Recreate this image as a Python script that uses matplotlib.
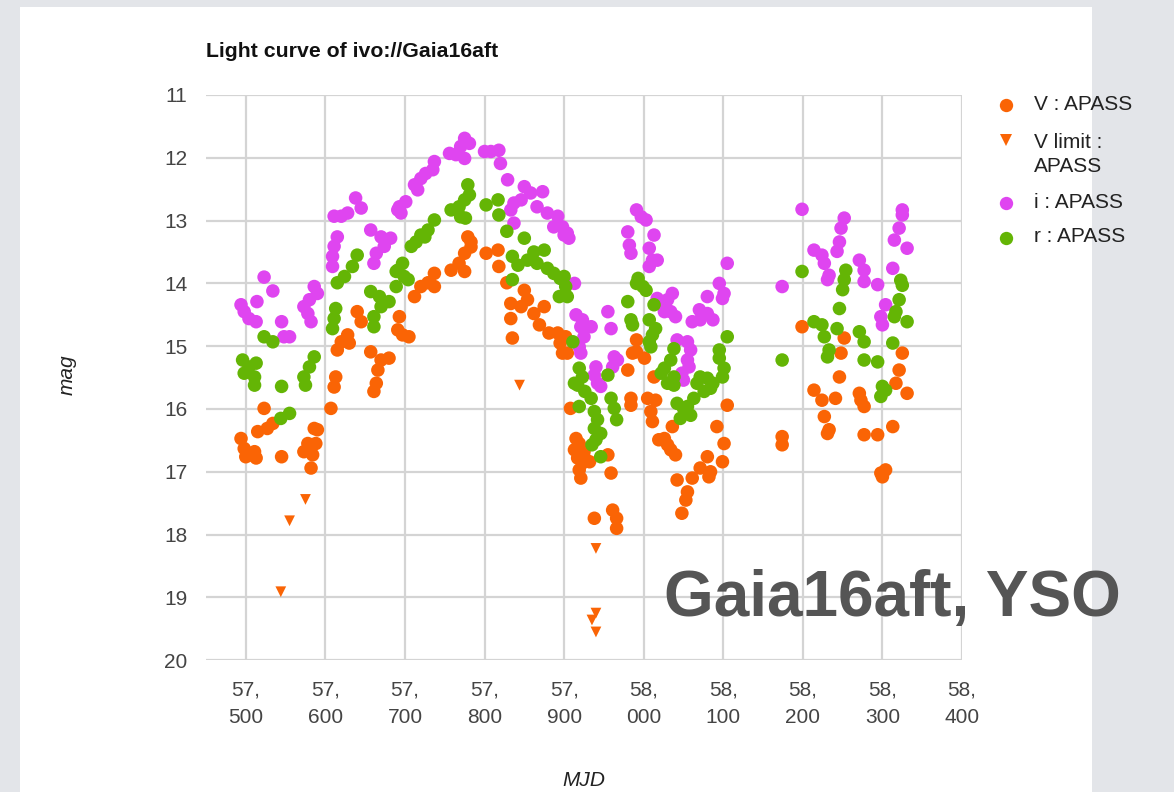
import matplotlib
matplotlib.use("Agg")
import matplotlib.pyplot as plt
from matplotlib.patches import Rectangle
from matplotlib.lines import Line2D

plt.rcParams['font.family'] = ['Liberation Sans', 'DejaVu Sans']

# ---- light-curve data (MJD, magnitude) ----
v_mjd = [57640, 57645, 57628, 57620, 57615, 57630, 57613, 57611, 57657, 57670,
         57680, 57666, 57664, 57693, 57691, 57697, 57523, 57515, 57527, 57534,
         57494, 57498, 57500, 57511, 57513, 57507, 57545, 57586, 57590, 57578,
         57588, 57573, 57584, 57582, 57607, 57661, 57779, 57783, 57775, 57768,
         57758, 57775, 57783, 57802, 57817, 57818, 57828, 57737, 57729, 57720,
         57712, 57737, 57705, 57850, 57854, 57833, 57846, 57833, 57862, 57875,
         57869, 57881, 57892, 57895, 57898, 57835, 57991, 57991, 58001, 57986,
         57980, 58013, 57902, 57904, 57908, 57915, 57913, 57919, 57925, 57917,
         57923, 57919, 57921, 57925, 57932, 57955, 57959, 57938, 57961, 57966,
         57966, 57984, 57984, 58005, 58015, 58009, 58011, 58036, 58019, 58026,
         58030, 58034, 58040, 58042, 58055, 58053, 58048, 58061, 58071, 58080,
         58084, 58082, 58092, 58101, 58099, 58105, 58199, 58252, 58248, 58246,
         58214, 58224, 58241, 58227, 58233, 58231, 58271, 58273, 58277, 58277,
         58294, 58325, 58321, 58317, 58331, 58313, 58174, 58174, 58298, 58304,
         58300]
v_mag = [14.45, 14.61, 14.82, 14.93, 15.06, 14.95, 15.49, 15.65, 15.09, 15.22,
         15.19, 15.38, 15.59, 14.53, 14.74, 14.82, 15.99, 16.36, 16.31, 16.23,
         16.47, 16.63, 16.76, 16.68, 16.78, 16.73, 16.76, 16.31, 16.33, 16.55,
         16.55, 16.68, 16.73, 16.94, 15.99, 15.72, 13.26, 13.42, 13.52, 13.68,
         13.79, 13.81, 13.34, 13.52, 13.47, 13.73, 13.99, 13.84, 13.99, 14.05,
         14.21, 14.05, 14.85, 14.11, 14.26, 14.32, 14.37, 14.56, 14.48, 14.37,
         14.66, 14.79, 14.79, 14.95, 15.11, 14.87, 14.90, 15.09, 15.19, 15.11,
         15.38, 15.49, 14.85, 15.11, 15.99, 16.47, 16.65, 16.55, 16.68, 16.78,
         16.86, 16.97, 17.10, 16.76, 16.84, 16.73, 17.02, 17.74, 17.61, 17.74,
         17.90, 15.83, 15.94, 15.83, 15.86, 16.04, 16.20, 16.28, 16.49, 16.47,
         16.57, 16.65, 16.73, 17.13, 17.32, 17.45, 17.66, 17.10, 16.94, 16.76,
         17.00, 17.08, 16.28, 16.55, 16.84, 15.94, 14.69, 14.87, 15.11, 15.49,
         15.70, 15.86, 15.83, 16.12, 16.33, 16.39, 15.75, 15.86, 15.96, 16.41,
         16.41, 15.11, 15.38, 15.59, 15.75, 16.28, 16.44, 16.57, 17.02, 16.97,
         17.08]

vlim_mjd = [57575, 57555, 57544, 57844, 57940, 57940, 57935, 57940]
vlim_mag = [17.44, 17.78, 18.91, 15.62, 18.22, 19.25, 19.36, 19.55]

i_mjd = [57494, 57498, 57504, 57513, 57514, 57523, 57534, 57545, 57548, 57555,
         57586, 57590, 57580, 57573, 57578, 57582, 57611, 57620, 57628, 57638,
         57645, 57615, 57611, 57609, 57609, 57657, 57670, 57682, 57674, 57664,
         57661, 57693, 57695, 57701, 57691, 57712, 57720, 57726, 57737, 57735,
         57716, 57756, 57764, 57775, 57775, 57781, 57770, 57800, 57808, 57818,
         57820, 57829, 57850, 57858, 57846, 57837, 57833, 57873, 57866, 57879,
         57892, 57898, 57900, 57837, 57887, 57904, 57906, 57991, 57997, 58003,
         57980, 57982, 57984, 58007, 58013, 58011, 58007, 58017, 57913, 58105,
         58095, 58101, 58099, 58080, 58017, 58030, 58036, 58026, 58034, 58040,
         58026, 57955, 57959, 57915, 57923, 57934, 57921, 57925, 57919, 57921,
         58070, 58080, 58087, 58061, 58071, 57963, 57967, 57961, 57940, 57938,
         57942, 58042, 58055, 58059, 58055, 58057, 58048, 58050, 57946, 58199,
         58174, 58252, 58248, 58246, 58243, 58214, 58224, 58227, 58233, 58231,
         58271, 58277, 58277, 58294, 58325, 58325, 58321, 58315, 58331, 58313,
         58304, 58298, 58300]
i_mag = [14.34, 14.45, 14.56, 14.61, 14.29, 13.90, 14.12, 14.61, 14.85, 14.85,
         14.05, 14.16, 14.26, 14.37, 14.48, 14.61, 12.93, 12.93, 12.88, 12.64,
         12.80, 13.26, 13.41, 13.57, 13.73, 13.15, 13.26, 13.28, 13.41, 13.52,
         13.68, 12.78, 12.88, 12.70, 12.83, 12.43, 12.33, 12.25, 12.06, 12.19,
         12.51, 11.93, 11.95, 12.01, 11.69, 11.77, 11.82, 11.90, 11.90, 11.88,
         12.09, 12.35, 12.46, 12.56, 12.67, 12.72, 12.83, 12.54, 12.78, 12.88,
         12.93, 13.10, 13.23, 13.04, 13.10, 13.20, 13.28, 12.83, 12.94, 12.99,
         13.18, 13.39, 13.52, 13.44, 13.23, 13.63, 13.73, 13.63, 14.00, 13.68,
         14.00, 14.16, 14.24, 14.21, 14.24, 14.26, 14.16, 14.37, 14.45, 14.53,
         14.45, 14.45, 14.72, 14.50, 14.58, 14.69, 14.69, 14.85, 15.01, 15.11,
         14.42, 14.48, 14.58, 14.61, 14.58, 15.17, 15.22, 15.33, 15.33, 15.46,
         15.59, 14.90, 14.93, 15.06, 15.22, 15.33, 15.43, 15.54, 15.64, 12.82,
         14.05, 12.96, 13.12, 13.34, 13.49, 13.47, 13.55, 13.68, 13.87, 13.94,
         13.63, 13.79, 13.97, 14.02, 12.83, 12.91, 13.12, 13.31, 13.44, 13.76,
         14.34, 14.53, 14.66]

r_mjd = [57523, 57534, 57496, 57504, 57513, 57511, 57498, 57545, 57586, 57580,
         57573, 57575, 57640, 57634, 57624, 57615, 57613, 57611, 57609, 57657,
         57668, 57680, 57670, 57661, 57661, 57689, 57697, 57544, 57555, 57511,
         57779, 57781, 57775, 57768, 57758, 57770, 57776, 57802, 57817, 57818,
         57828, 57737, 57729, 57720, 57714, 57708, 57725, 57691, 57699, 57704,
         57689, 57850, 57862, 57875, 57835, 57842, 57854, 57866, 57835, 57879,
         57887, 57895, 57902, 57904, 57894, 57900, 57993, 57999, 58003, 57991,
         57980, 57984, 57986, 58013, 58007, 58015, 58011, 58007, 58009, 57911,
         58105, 58095, 58095, 58101, 58099, 58038, 58034, 58026, 58022, 58038,
         58030, 57955, 57919, 57923, 57913, 58071, 58080, 58087, 58067, 57917,
         57926, 57934, 57919, 57938, 57942, 57938, 57946, 57940, 57935, 57946,
         57959, 57963, 57966, 58038, 58042, 58050, 58059, 58046, 58063, 58076,
         58084, 58055, 58199, 58174, 58254, 58252, 58250, 58246, 58214, 58224,
         58227, 58233, 58231, 58243, 58271, 58277, 58277, 58294, 58323, 58325,
         58321, 58317, 58315, 58331, 58313, 58300, 58304, 58298]
r_mag = [14.85, 14.93, 15.22, 15.33, 15.27, 15.49, 15.43, 15.64, 15.17, 15.33,
         15.49, 15.62, 13.55, 13.73, 13.89, 13.99, 14.40, 14.56, 14.72, 14.13,
         14.21, 14.29, 14.37, 14.53, 14.69, 13.81, 13.68, 16.15, 16.07, 15.62,
         12.43, 12.59, 12.67, 12.78, 12.83, 12.94, 12.96, 12.75, 12.67, 12.91,
         13.17, 12.99, 13.15, 13.23, 13.34, 13.41, 13.26, 13.79, 13.89, 13.94,
         14.05, 13.28, 13.50, 13.47, 13.57, 13.71, 13.63, 13.68, 13.94, 13.76,
         13.84, 13.92, 14.05, 14.21, 14.21, 13.89, 13.92, 14.05, 14.11, 14.00,
         14.29, 14.58, 14.66, 14.34, 14.58, 14.72, 14.82, 14.93, 15.01, 14.93,
         14.85, 15.06, 15.19, 15.35, 15.49, 15.04, 15.22, 15.35, 15.43, 15.49,
         15.59, 15.46, 15.35, 15.49, 15.59, 15.49, 15.51, 15.59, 15.59, 15.62,
         15.72, 15.83, 15.96, 16.04, 16.17, 16.31, 16.39, 16.49, 16.57, 16.76,
         15.83, 15.99, 16.17, 15.62, 15.91, 15.99, 16.10, 16.15, 15.83, 15.72,
         15.67, 15.96, 13.81, 15.22, 13.79, 13.94, 14.10, 14.40, 14.61, 14.66,
         14.85, 15.06, 15.17, 14.72, 14.77, 14.93, 15.22, 15.25, 13.95, 14.03,
         14.26, 14.45, 14.53, 14.61, 14.95, 15.64, 15.70, 15.80]

series_labels = ["V : APASS", "V limit :\nAPASS", "i : APASS", "r : APASS"]
x_ticks = [57500, 57600, 57700, 57800, 57900, 58000, 58100, 58200, 58300, 58400]
y_ticks = [11, 12, 13, 14, 15, 16, 17, 18, 19, 20]

c_v = "#fa6405"
c_i = "#df45f0"
c_r = "#64b505"
fs = 15

W, H = 1174, 792
fig = plt.figure(figsize=(W / 100, H / 100), dpi=100)
fig.patch.set_facecolor("#e3e5e9")
fig.add_artist(Rectangle((20 / W, 0), 1072 / W, 785 / H, transform=fig.transFigure,
                         facecolor="white", edgecolor="none", zorder=0))

ax = fig.add_axes([206 / W, 1 - 660.2 / H, 756 / W, 565.2 / H])
ax.set_facecolor("none")
ax.set_xlim(57450, 58400)
ax.set_ylim(20, 11)
for s in ax.spines.values():
    s.set_visible(False)
ax.set_xticks(x_ticks)
ax.set_yticks(y_ticks)
ax.set_xticklabels([f"{t // 1000},\n{t % 1000:03d}" for t in x_ticks],
                   linespacing=1.58)
ax.tick_params(axis="both", length=0, labelsize=fs, labelcolor="#444444")
ax.tick_params(axis="x", pad=14.5)
ax.tick_params(axis="y", pad=13.3)
ax.grid(True, color="#d4d4d4", linewidth=1.6, zorder=0)
ax.set_axisbelow(True)

ms = 95
ax.scatter(v_mjd, v_mag, s=ms, color=c_v, edgecolors="none", zorder=3, clip_on=False)
ax.scatter(vlim_mjd, vlim_mag, s=60, marker="v", color=c_v, edgecolors="none",
           zorder=3, clip_on=False)
ax.scatter(i_mjd, i_mag, s=ms, color=c_i, edgecolors="none", zorder=4, clip_on=False)
ax.scatter(r_mjd, r_mag, s=ms, color=c_r, edgecolors="none", zorder=5, clip_on=False)

# titles and axis names
fig.text(206 / W, 1 - 57 / H, "Light curve of ivo://Gaia16aft", fontsize=15.3,
         fontweight="bold", color="#111111", ha="left", va="baseline")
fig.text(67 / W, 1 - 375 / H, "mag", fontsize=fs, style="italic",
         color="#222222", rotation=90, ha="center", va="center")
fig.text(584 / W, 1 - 781 / H, "MJD", fontsize=fs, style="italic",
         color="#222222", ha="center", va="center")

# legend keys
key_rows = [105, 140, 203, 238]
text_rows = [105, 144, 203, 238]
key_styles = [("o", c_v, 9.6), ("v", c_v, 8.0), ("o", c_i, 9.6), ("o", c_r, 9.6)]
for krow, trow, (mk, col, size), lab in zip(key_rows, text_rows, key_styles,
                                             series_labels):
    fig.add_artist(Line2D([1006 / W], [1 - krow / H], transform=fig.transFigure,
                          marker=mk, markersize=size, color=col, linestyle="none",
                          markeredgewidth=0))
    fig.text(1034 / W, 1 - (trow - 10.5) / H, lab, fontsize=fs, color="#222222",
             ha="left", va="top", linespacing=1.3)

fig.text(664 / W, 1 - 616 / H, "Gaia16aft, YSO", fontsize=46, fontweight="bold",
         color="#555555", ha="left", va="baseline")

fig.savefig("out.png", dpi=100, facecolor=fig.get_facecolor())
